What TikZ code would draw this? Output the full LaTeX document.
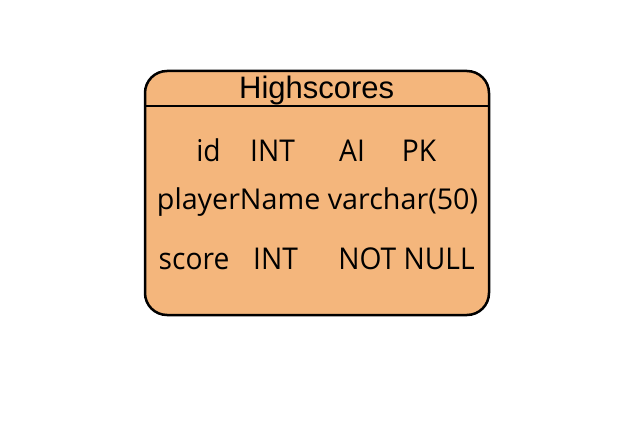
\documentclass[tikz,border=0pt]{standalone}
\usepackage{fontspec}
\setmainfont{Open Sans}
\newfontfamily\bodyfont[FakeStretch=0.94]{Open Sans}
\newfontfamily\midfont{Open Sans}
\newfontfamily\titlefont{Liberation Sans}
\definecolor{tablefill}{HTML}{F4B67C}
\begin{document}
\begin{tikzpicture}[x=1pt,y=-1pt,
  cell/.style={inner sep=0pt,anchor=base,font=\bodyfont\fontsize{30}{34}\selectfont},
  midcell/.style={inner sep=0pt,anchor=base,font=\midfont\fontsize{28.7}{32}\selectfont},
  titletext/.style={inner sep=0pt,anchor=base,font=\titlefont\fontsize{31}{34}\selectfont}]
\useasboundingbox (0,0) rectangle (640,428);
\draw[line width=2.5pt,fill=tablefill,rounded corners=22pt] (145,71) rectangle (489,315);
\coordinate (hl) at (145,106);
\coordinate (hr) at (489,106);
\draw[line width=2.5pt] (hl) -- (hr);
\node[titletext] (title) at (316.7,98.5) {Highscores};
\node[cell] (c11) at (208.5,161.7) {id};
\node[cell] (c12) at (272.5,161.7) {INT};
\node[cell] (c13) at (352,161.7) {AI};
\node[cell] (c14) at (419,161.7) {PK};
\node[midcell] (c2) at (317.5,209.5) {playerName varchar(50)};
\node[cell] (c31) at (194,269) {score};
\node[cell] (c32) at (275.5,269) {INT};
\node[cell] (c33) at (406.5,269) {NOT NULL};
\end{tikzpicture}
\end{document}
